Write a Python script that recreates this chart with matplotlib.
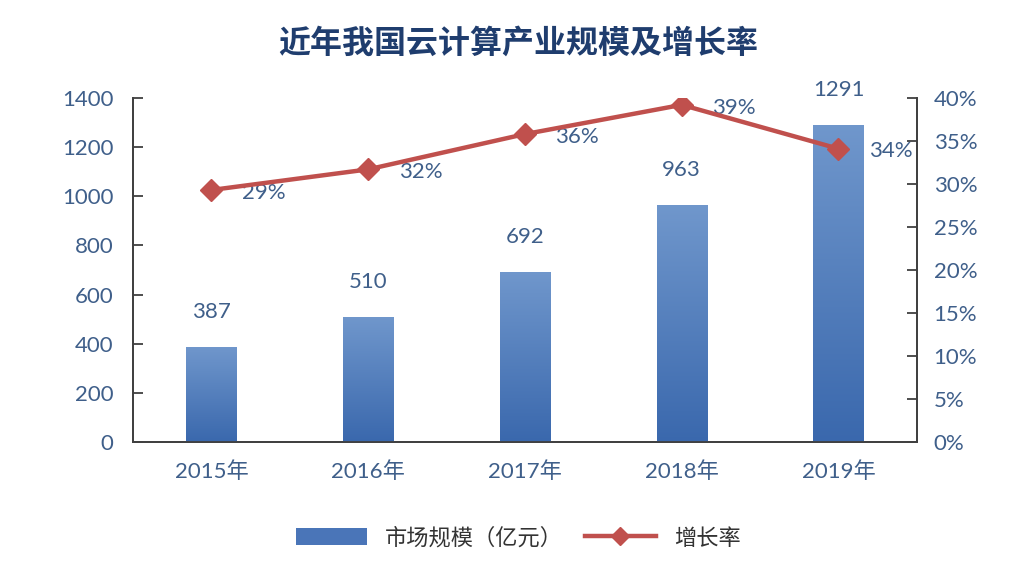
import numpy as np
import matplotlib
matplotlib.use("Agg")
import matplotlib.pyplot as plt
from matplotlib.colors import LinearSegmentedColormap
from matplotlib.patches import Patch
from matplotlib.lines import Line2D

plt.rcParams['font.family'] = ['Lato', 'Noto Sans CJK SC', 'DejaVu Sans']

years = ['2015年', '2016年', '2017年', '2018年', '2019年']
market_size = [387, 510, 692, 963, 1291]
growth_rate = [29.3, 31.7, 35.8, 39.2, 34.1]
growth_labels = ['29%', '32%', '36%', '39%', '34%']

text_color = '#3f5f8a'
line_color = '#c0504d'
spine_color = '#404040'

fig = plt.figure(figsize=(10.36, 5.74), dpi=100)
ax = fig.add_axes([0.1284, 0.23, 0.7566, 0.5993])
ax2 = ax.twinx()

x = np.arange(len(years))
bars = ax.bar(x, market_size, width=0.32, color='#5580bf', zorder=2)

# vertical gradient on each bar, light at the top, darker at the bottom
cmap = LinearSegmentedColormap.from_list('bar', ['#3a68ad', '#7097cc'])
grad = np.linspace(0, 1, 256).reshape(-1, 1)
for rect in bars:
    x0 = rect.get_x()
    w = rect.get_width()
    h = rect.get_height()
    im = ax.imshow(grad, extent=[x0, x0 + w, 0, h], origin='lower',
                   aspect='auto', cmap=cmap, zorder=3)
    im.set_clip_path(rect)

ax.set_xlim(-0.5, len(years) - 0.5)
ax.set_ylim(0, 1400)
ax.set_yticks(range(0, 1401, 200))
ax.set_xticks(x)
ax.set_xticklabels(years)

for xi, v in zip(x, market_size):
    ax.annotate(str(v), (xi, v), xytext=(0, 18), textcoords='offset points',
                ha='center', va='bottom', fontsize=16, color=text_color)

ax2.plot(x, growth_rate, color=line_color, linewidth=3.2, marker='D',
         markersize=11, zorder=5)
ax2.set_ylim(0, 40)
ax2.set_yticks(range(0, 41, 5))
ax2.set_yticklabels([f'{t}%' for t in range(0, 41, 5)])
for xi, v, lab in zip(x, growth_rate, growth_labels):
    ax2.annotate(lab, (xi, v), xytext=(22, -2), textcoords='offset points',
                 ha='left', va='center', fontsize=16, color=text_color)

for a in (ax, ax2):
    a.spines['top'].set_visible(False)
    for s in ('left', 'right', 'bottom'):
        a.spines[s].set_color(spine_color)
        a.spines[s].set_linewidth(1.3)
    a.tick_params(axis='y', direction='in', length=7, width=1.3,
                  color=spine_color, labelsize=16, labelcolor=text_color, pad=14)
ax.tick_params(axis='x', length=0, labelsize=16, labelcolor=text_color, pad=14)
ax2.tick_params(axis='y', pad=12)

fig.text(0.5, 0.927, '近年我国云计算产业规模及增长率', ha='center', va='center',
         fontsize=23, fontweight='bold', color='#1f3d6e')

handles = [Patch(facecolor='#4a75b8', edgecolor='none'),
           Line2D([0], [0], color=line_color, linewidth=3.2, marker='D', markersize=9)]
fig.legend(handles, ['市场规模（亿元）', '增长率'], loc='center',
           bbox_to_anchor=(0.5, 0.063), ncol=2, frameon=False, fontsize=16,
           handlelength=3.2, handleheight=0.8, columnspacing=1.0,
           labelcolor='#333333')

fig.savefig('out.png', dpi=100, facecolor='white')
